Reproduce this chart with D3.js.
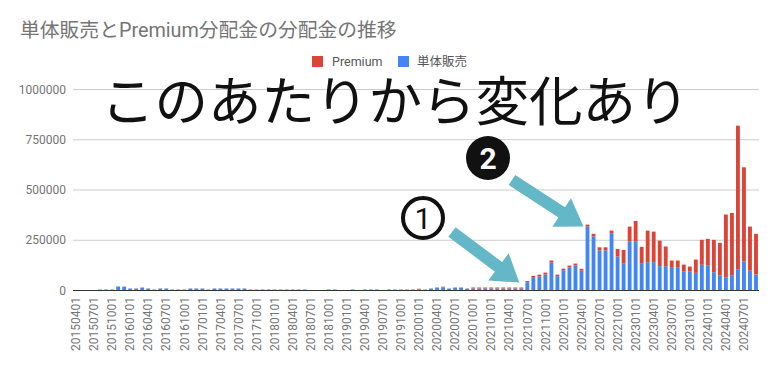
<!DOCTYPE html>
<html><head><meta charset="utf-8">
<script src="https://cdn.jsdelivr.net/npm/d3@7"></script>
<style>
body{margin:0;background:#fff;}
text{font-family:Roboto,"Noto Sans CJK JP",sans-serif;}
</style></head>
<body><svg id="c" width="777" height="371"></svg>
<script>
const months = [
"20150401","20150501","20150601","20150701","20150801","20150901","20151001","20151101","20151201",
"20160101","20160201","20160301","20160401","20160501","20160601","20160701","20160801","20160901","20161001","20161101","20161201",
"20170101","20170201","20170301","20170401","20170501","20170601","20170701","20170801","20170901","20171001","20171101","20171201",
"20180101","20180201","20180301","20180401","20180501","20180601","20180701","20180801","20180901","20181001","20181101","20181201",
"20190101","20190201","20190301","20190401","20190501","20190601","20190701","20190801","20190901","20191001","20191101","20191201",
"20200101","20200201","20200301","20200401","20200501","20200601","20200701","20200801","20200901","20201001","20201101","20201201",
"20210101","20210201","20210301","20210401","20210501","20210601","20210701","20210801","20210901","20211001","20211101","20211201",
"20220101","20220201","20220301","20220401","20220501","20220601","20220701","20220801","20220901","20221001","20221101","20221201",
"20230101","20230201","20230301","20230401","20230501","20230601","20230701","20230801","20230901","20231001","20231101","20231201",
"20240101","20240201","20240301","20240401","20240501","20240601","20240701","20240801","20240901"
];
const single = [
0,0,0,0,5000,5000,5000,20000,19000,10000,
10000,15000,10000,5000,10000,10000,5000,5000,5000,10000,
10000,10000,5000,10000,10000,10000,10000,10000,10000,5000,
5000,5000,5000,5000,5000,5000,5000,5000,5000,0,
0,0,5000,5000,0,0,5000,0,5000,5000,
5000,0,5000,5000,5000,5000,5000,5000,5000,10000,
15000,15000,10000,15000,15000,10000,10000,10000,10000,10000,
10000,10000,10000,10000,10000,41000,63000,70000,79000,139000,
71000,101000,115000,124000,99000,318000,269000,199000,200000,285000,
169000,136000,245000,245000,133000,141000,141000,121000,121000,113000,
116000,96000,96000,88000,128000,126000,91000,75000,66000,76000,
106000,144000,99000,80000
];
const premium = [
0,0,0,0,0,0,0,0,0,0,
0,0,0,0,0,0,0,0,0,0,
0,0,0,0,0,0,0,0,0,0,
0,0,0,0,0,0,0,0,0,0,
0,0,0,0,0,0,0,0,0,0,
0,0,0,0,0,0,0,4000,0,0,
0,4000,0,0,0,0,5000,5000,5000,5000,
5000,5000,5000,5000,5000,6000,10000,9000,10000,10000,
8000,8000,9000,10000,9000,10000,13000,16000,15000,13000,
38000,66000,73000,101000,84000,157000,152000,127000,98000,36000,
33000,33000,23000,66000,124000,131000,161000,162000,312000,310000,
714000,469000,219000,202000
];
const yTicks = [0,250000,500000,750000,1000000];
const seriesNames = ["単体販売","Premium"];
const colors = {"単体販売":"#4285f4","Premium":"#db4437"};
const title = "単体販売とPremium分配金の分配金の推移";
const note = "このあたりから変化あり";

const svg = d3.select("#c");
const x = d3.scaleBand().domain(months).range([73,759]).paddingInner(0.36).paddingOuter(0.18);
const y = d3.scaleLinear().domain([0,1000000]).range([290.5,89.5]);

// title
svg.append("text").attr("x",20).attr("y",37).attr("font-size",19.8).attr("fill","#757575").text(title);

// grid
svg.append("g").selectAll("line").data(yTicks.filter(d=>d>0)).join("line")
  .attr("x1",73).attr("x2",759).attr("y1",d=>y(d)).attr("y2",d=>y(d))
  .attr("stroke","#cccccc").attr("stroke-width",1);
svg.append("g").selectAll("text").data(yTicks).join("text")
  .attr("x",66).attr("y",d=>y(d)).attr("dy","0.35em").attr("text-anchor","end")
  .attr("font-size",12).attr("fill","#757575").text(d=>d);

// bars
const table = months.map((m,i)=>({m, "単体販売":single[i], "Premium":premium[i]}));
const stack = d3.stack().keys(seriesNames)(table);
svg.append("g").selectAll("g").data(stack).join("g").attr("fill",s=>colors[s.key])
  .selectAll("rect").data(s=>s).join("rect")
  .attr("x",d=>x(d.data.m)).attr("width",x.bandwidth())
  .attr("y",d=>y(d[1])).attr("height",d=>Math.max(0,y(d[0])-y(d[1])));

// baseline
svg.append("line").attr("x1",73).attr("x2",759).attr("y1",y(0)).attr("y2",y(0)).attr("stroke","#333").attr("stroke-width",1.2);

// x labels
const tickLabels = months.filter((m,i)=>i%3===0);
svg.append("g").selectAll("text").data(tickLabels).join("text")
  .attr("transform",d=>`translate(${x(d)+x.bandwidth()/2},297) rotate(-90)`)
  .attr("dy","0.35em").attr("text-anchor","end").attr("font-size",12).attr("fill","#757575").text(d=>d);

// legend
const lg = svg.append("g");
lg.append("rect").attr("x",312).attr("y",56).attr("width",11).attr("height",11).attr("fill",colors["Premium"]);
lg.append("text").attr("x",332).attr("y",66).attr("font-size",12.5).attr("fill","#555").text("Premium");
lg.append("rect").attr("x",398).attr("y",56).attr("width",11).attr("height",11).attr("fill",colors["単体販売"]);
lg.append("text").attr("x",417).attr("y",66).attr("font-size",12.5).attr("fill","#555").text("単体販売");

// annotation text
svg.append("text").attr("x",101).attr("y",121).attr("font-size",53.5).attr("fill","#111")
  .attr("font-family","'Noto Sans CJK JP',sans-serif").attr("font-weight",400).text(note);

// arrows
function arrow(x0,y0,tip){
  const [tx,ty]=tip;
  const ang=Math.atan2(ty-y0,tx-x0);
  const hl=26, sw=6;
  const bx=tx-hl*Math.cos(ang), by=ty-hl*Math.sin(ang);
  const px=-Math.sin(ang), py=Math.cos(ang);
  const pts=[[x0+px*sw,y0+py*sw],[bx+px*sw,by+py*sw],[bx+px*17,by+py*17],[tx,ty],[bx-px*17,by-py*17],[bx-px*sw,by-py*sw],[x0-px*sw,y0-py*sw]];
  svg.append("path").attr("d","M"+pts.map(p=>p.join(",")).join("L")+"Z").attr("fill","#63b7c6");
}
const i1 = months.indexOf("20210601"), i2 = months.indexOf("20220501");
arrow(452,232,[x(months[i1])+x.bandwidth()/2-2, y(single[i1]+premium[i1])-5]);
arrow(512,180,[x(months[i2])+x.bandwidth()/2-4, y(single[i2]+premium[i2])+2]);

// circled numbers
svg.append("circle").attr("cx",423).attr("cy",218).attr("r",20).attr("fill","none").attr("stroke","#111").attr("stroke-width",4);
svg.append("text").attr("x",423).attr("y",218).attr("dy","0.36em").attr("text-anchor","middle").attr("font-size",30).attr("fill","#111").text("1");
svg.append("circle").attr("cx",488).attr("cy",158).attr("r",22).attr("fill","#111");
svg.append("text").attr("x",488).attr("y",158).attr("dy","0.36em").attr("text-anchor","middle").attr("font-size",30).attr("font-weight",700).attr("fill","#fff").text("2");
</script></body></html>
